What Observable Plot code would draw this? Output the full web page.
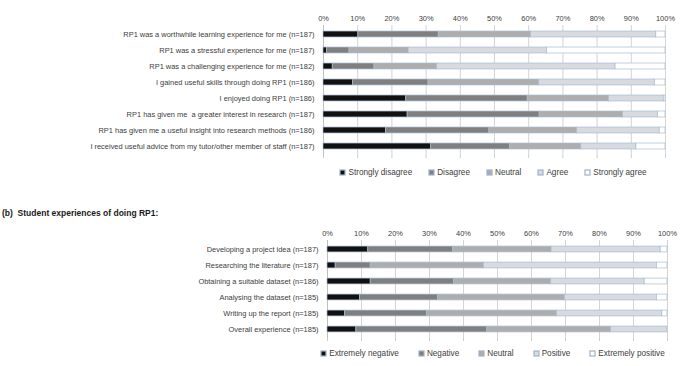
<!DOCTYPE html>
<html>
<head>
<meta charset="utf-8">
<script src="https://cdn.jsdelivr.net/npm/d3@7"></script>
<script src="https://cdn.jsdelivr.net/npm/@observablehq/plot@0.6"></script>
<style>
  html, body { margin: 0; padding: 0; background: #fff; }
  body { width: 685px; height: 366px; position: relative; overflow: hidden;
         font-family: "Liberation Sans", Arial, sans-serif; color: #404040; }
  .box { position: absolute; }
  .title { position: absolute; left: 2px; top: 208px; font-size: 8.5px; font-weight: bold; color: #1a1a1a; white-space: pre; }
  .lg-swatches { font-family: "Liberation Sans", Arial, sans-serif !important; font-size: 8.2px !important;
                 color: #404040; margin: 0 !important; min-height: 0 !important;
                 display: flex !important; justify-content: center; flex-wrap: nowrap !important; }
  .lg-swatch { white-space: nowrap; }
  #la .lg-swatch { margin-right: 17px !important; }
  #lb .lg-swatch { margin-right: 20px !important; }
  .lg-swatch:last-child { margin-right: 0 !important; }
  .lg-swatch > svg { margin-right: 3px !important; overflow: visible; }
  .lg-swatch > svg rect { stroke: #9fb2c9; stroke-width: 1.2; }
</style>
</head>
<body>
<div id="a" class="box" style="left:0;top:0"></div>
<div id="la" class="box" style="left:318px;top:168px;width:368px"></div>
<div class="title">(b)  Student experiences of doing RP1:</div>
<div id="b" class="box" style="left:0;top:218px"></div>
<div id="lb" class="box" style="left:314px;top:349px;width:378px"></div>
<script>
// (a) Agreement with statements about RP1 — percentages of respondents
const statements = [
  "RP1 was a worthwhile learning experience for me (n=187)",
  "RP1 was a stressful experience for me (n=187)",
  "RP1 was a challenging experience for me (n=182)",
  "I gained useful skills through doing RP1 (n=186)",
  "I enjoyed doing RP1 (n=186)",
  "RP1 has given me  a greater interest in research (n=187)",
  "RP1 has given me a useful insight into research methods (n=186)",
  "I received useful advice from my tutor/other member of staff (n=187)"
];
const agreeLevels = ["Strongly disagree", "Disagree", "Neutral", "Agree", "Strongly agree"];
const stronglyDisagree = [10.2, 1.0, 2.7, 8.6, 24.2, 24.6, 18.3, 31.4];
const disagree         = [23.5, 6.6, 12.2, 22.1, 35.5, 38.6, 30.2, 23.2];
const neutralA         = [27.0, 17.3, 18.3, 32.4, 23.8, 24.4, 25.7, 20.8];
const agree            = [36.6, 40.5, 52.2, 33.8, 16.0, 10.2, 24.1, 16.1];
const stronglyAgree    = [2.7, 34.6, 14.6, 3.1, 0.5, 2.2, 1.7, 8.5];

// (b) Student experiences of doing RP1 — percentages of respondents
const stages = [
  "Developing a project idea (n=187)",
  "Researching the literature (n=187)",
  "Obtaining a suitable dataset (n=186)",
  "Analysing the dataset (n=185)",
  "Writing up the report (n=185)",
  "Overall experience (n=185)"
];
const experienceLevels = ["Extremely negative", "Negative", "Neutral", "Positive", "Extremely positive"];
const extremelyNegative = [12.0, 2.4, 12.7, 9.6, 5.2, 8.5];
const negative          = [24.9, 10.3, 24.5, 22.9, 24.0, 38.5];
const neutralB          = [29.0, 33.3, 28.6, 37.3, 38.3, 36.4];
const positive          = [32.1, 50.9, 27.5, 27.1, 31.0, 16.6];
const extremelyPositive = [2.0, 3.1, 6.7, 3.1, 1.5, 0.0];

const xTicks = [0, 10, 20, 30, 40, 50, 60, 70, 80, 90, 100];
const fills = ["#111111", "#7f7f7f", "#adadad", "#d7dbe0", "#ffffff"];

function longForm(categories, levels, series) {
  const rows = [];
  levels.forEach((level, i) => {
    categories.forEach((cat, j) => rows.push({cat, level, value: series[i][j]}));
  });
  return rows;
}

function stackedChart({categories, levels, series, width, height, marginLeft, marginRight, marginTop, marginBottom}) {
  const data = longForm(categories, levels, series);
  const step = (height - marginTop - marginBottom) / categories.length;
  const inset = (step - 6.2) / 2;
  return Plot.plot({
    width, height, marginLeft, marginRight, marginTop, marginBottom,
    style: {fontFamily: "Liberation Sans, Arial, sans-serif", fontSize: "7.45px", color: "#404040", background: "#fff"},
    x: {domain: [0, 100], ticks: xTicks},
    y: {domain: categories, padding: 0},
    color: {domain: levels, range: fills},
    marks: [
      Plot.gridX(xTicks, {stroke: "#d4d4d4", strokeOpacity: 1, strokeWidth: 1}),
      Plot.axisX(xTicks, {anchor: "top", tickSize: 0, tickPadding: 5, tickFormat: d => d + "%", label: null}),
      Plot.axisX(xTicks, {anchor: "bottom", tickSize: 3, tickFormat: () => "", label: null, stroke: "#cccccc"}),
      Plot.axisY({tickSize: 0, tickPadding: 9, label: null}),
      Plot.ruleX([0], {stroke: "#bfbfbf"}),
      Plot.barX(data, Plot.stackX({
        x: "value", y: "cat", fill: "level",
        insetTop: inset, insetBottom: inset,
        stroke: "#a9bcd2", strokeWidth: 0.7
      }))
    ]
  });
}

const chartA = stackedChart({
  categories: statements, levels: agreeLevels,
  series: [stronglyDisagree, disagree, neutralA, agree, stronglyAgree],
  width: 685, height: 160, marginLeft: 323, marginRight: 20, marginTop: 25, marginBottom: 5
});
document.getElementById("a").append(chartA);
document.getElementById("la").append(chartA.legend("color", {className: "lg", swatchSize: 5}));

const chartB = stackedChart({
  categories: stages, levels: experienceLevels,
  series: [extremelyNegative, negative, neutralB, positive, extremelyPositive],
  width: 685, height: 125, marginLeft: 327, marginRight: 18, marginTop: 22, marginBottom: 5
});
document.getElementById("b").append(chartB);
document.getElementById("lb").append(chartB.legend("color", {className: "lg", swatchSize: 5}));
</script>
</body>
</html>
